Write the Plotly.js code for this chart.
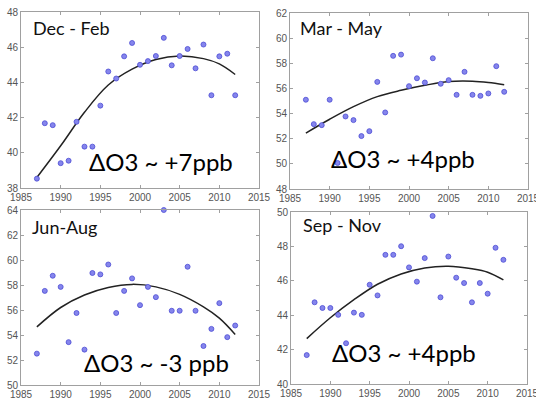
<!DOCTYPE html>
<html>
<head>
<meta charset="utf-8">
<script src="https://cdn.plot.ly/plotly-3.0.1.min.js"></script>
<style>html,body{margin:0;padding:0;background:#fff;}#chart{width:536px;height:401px;}</style>
</head>
<body>
<div id="chart"></div>
<script>
// ---- data ----
const years = [1987,1988,1989,1990,1991,1992,1993,1994,1995,1996,1997,1998,1999,2000,2001,2002,2003,2004,2005,2006,2007,2008,2009,2010,2011,2012];
const djf = [38.53,41.68,41.57,39.41,39.55,41.76,40.35,40.35,42.68,44.62,44.22,45.48,46.24,45.0,45.21,45.5,46.53,44.97,45.5,45.9,44.8,46.15,43.27,45.48,45.63,43.27];
const mam = [55.1,53.16,53.08,55.1,50.07,53.77,53.48,52.21,52.6,56.52,54.09,58.59,58.69,56.18,56.81,56.47,58.4,56.37,56.66,55.49,57.32,55.49,55.41,55.6,57.77,55.73];
const jja = [52.51,57.53,58.74,57.85,53.43,55.76,52.83,58.96,58.85,59.64,55.76,57.53,58.53,56.39,57.85,57.03,64.0,55.94,55.94,59.46,55.94,53.12,54.49,56.55,53.83,54.76];
const son = [41.68,44.75,44.42,44.42,44.02,42.37,44.15,44.02,45.77,45.15,47.51,47.51,48.01,46.78,45.95,47.32,49.77,45.04,47.41,46.18,45.87,44.75,45.87,45.25,47.92,47.22];

const fitYears = [1987,1990,1993,1996,1999,2002,2005,2008,2010,2012];
const djfFit = [38.6,40.4,42.3,43.85,44.75,45.3,45.5,45.35,45.05,44.45];
const mamFit = [52.45,53.55,54.55,55.35,55.85,56.25,56.55,56.58,56.48,56.3];
const jjaFit = [54.65,56.2,57.2,57.8,58.05,57.85,57.25,56.25,55.35,54.05];
const sonFit = [42.64,43.85,44.9,45.8,46.4,46.75,46.85,46.7,46.5,46.05];

const panelTitles = ["Dec - Feb","Mar - May","Jun-Aug","Sep - Nov"];
const deltaLabels = ["\u0394O3 ~ +7ppb","\u0394O3 ~ +4ppb","\u0394O3 ~ -3 ppb","\u0394O3 ~ +4ppb"];
const yRanges = [[38,48],[48,62],[50,64],[40,50]];
const xTicks = [1985,1990,1995,2000,2005,2010,2015];

// ---- build ----
const W = 536, H = 401;
const px = x => x / W, py = y => 1 - y / H;
const series = [djf, mam, jja, son];
const fits = [djfFit, mamFit, jjaFit, sonFit];
const axIds = ["", "2", "3", "4"];
const traces = [];
series.forEach((s, i) => {
  traces.push({
    x: fitYears, y: fits[i], type: "scatter", mode: "lines",
    xaxis: "x" + axIds[i], yaxis: "y" + axIds[i],
    line: {color: "#222", width: 1.5, shape: "spline"},
    showlegend: false, hoverinfo: "skip"
  });
  traces.push({
    x: years, y: s, type: "scatter", mode: "markers",
    xaxis: "x" + axIds[i], yaxis: "y" + axIds[i],
    marker: {size: 5, color: "#8585ec", line: {color: "#4d4dd4", width: 0.8}},
    cliponaxis: false, showlegend: false, hoverinfo: "skip"
  });
});

const xDom = [[px(21), px(259)], [px(290), px(528)], [px(21), px(259)], [px(291), px(527)]];
const yDom = [[py(188), py(12)], [py(189), py(13)], [py(385), py(210)], [py(384), py(212)]];

const layout = {
  width: W, height: H,
  margin: {l: 0, r: 0, t: 0, b: 0},
  paper_bgcolor: "#fff", plot_bgcolor: "#fff",
  font: {family: "Liberation Sans, Arial, sans-serif", size: 10, color: "#555"},
  annotations: [], showlegend: false
};
const tPos = [[31, 28], [298, 28], [30, 227], [301, 225]];
const dPos = [[161, 162], [403, 158], [156, 362], [404, 352]];
for (let i = 0; i < 4; i++) {
  const common = {
    showline: true, linecolor: "#a0a0a0", linewidth: 1, mirror: "ticks",
    ticks: "inside", ticklen: 3, tickcolor: "#a0a0a0",
    showgrid: false, zeroline: false, fixedrange: true,
    ticklabeloverflow: "allow",
    tickfont: {family: "Liberation Sans, Arial, sans-serif", size: 10, color: "#555"}
  };
  layout["xaxis" + axIds[i]] = Object.assign({}, common, {
    domain: xDom[i], range: [1985, 2015], tickvals: xTicks, ticktext: xTicks.map(String),
    anchor: "y" + axIds[i]
  });
  layout["yaxis" + axIds[i]] = Object.assign({}, common, {
    domain: yDom[i], range: yRanges[i], dtick: 2, tick0: yRanges[i][0],
    anchor: "x" + axIds[i]
  });
  layout.annotations.push({
    text: panelTitles[i], xref: "paper", yref: "paper",
    x: px(tPos[i][0]), y: py(tPos[i][1]), xanchor: "left", yanchor: "middle",
    showarrow: false, font: {family: "Lato, Open Sans, sans-serif", size: 18, color: "#111"}
  });
  layout.annotations.push({
    text: deltaLabels[i], xref: "paper", yref: "paper",
    x: px(dPos[i][0]), y: py(dPos[i][1]), xanchor: "center", yanchor: "middle",
    showarrow: false, font: {family: "Lato, Open Sans, sans-serif", size: 24, color: "#000"}
  });
}
Plotly.newPlot("chart", traces, layout, {staticPlot: true, displayModeBar: false});
</script>
</body>
</html>
